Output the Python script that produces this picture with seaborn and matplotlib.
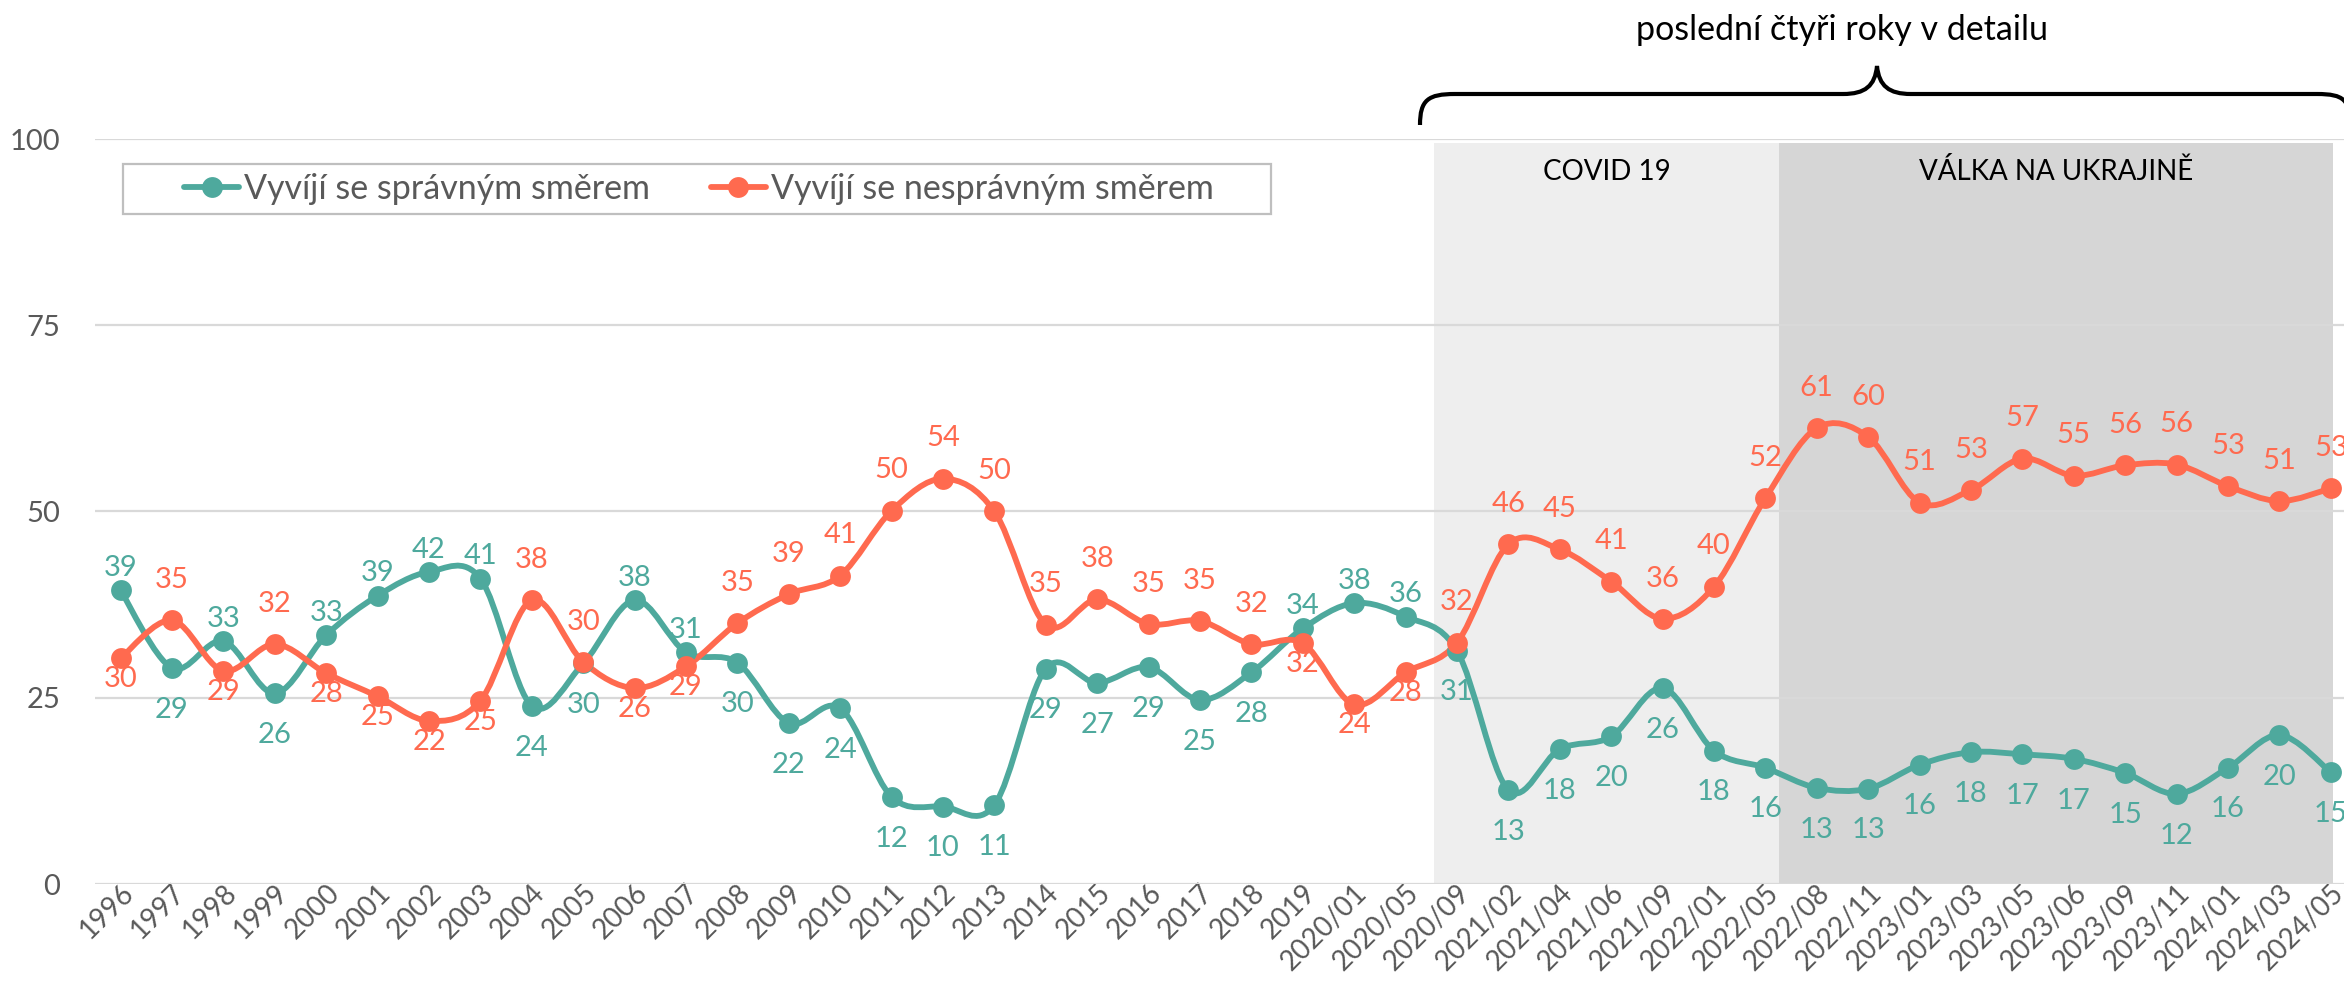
"""
Vývoj v ČR: správným / nesprávným směrem (1996-2024), smoothed line chart
with the last four years highlighted.
"""
import numpy as np
import seaborn as sns
import matplotlib.pyplot as plt
from matplotlib.path import Path
from matplotlib.patches import PathPatch, Rectangle
from matplotlib.lines import Line2D
from matplotlib.transforms import ScaledTranslation

# Data
CATEGORIES = [
    "1996", "1997", "1998", "1999", "2000", "2001", "2002", "2003",
    "2004", "2005", "2006", "2007", "2008", "2009", "2010", "2011",
    "2012", "2013", "2014", "2015", "2016", "2017", "2018", "2019",
    "2020/01", "2020/05", "2020/09", "2021/02", "2021/04", "2021/06",
    "2021/09", "2022/01", "2022/05", "2022/08", "2022/11", "2023/01",
    "2023/03", "2023/05", "2023/06", "2023/09", "2023/11", "2024/01",
    "2024/03", "2024/05",
]
RIGHT_DIRECTION = [
    39.4, 29.0, 32.6, 25.6, 33.4, 38.7, 41.9, 41.0, 23.9, 29.6, 38.1, 31.1,
    29.7, 21.6, 23.6, 11.7, 10.4, 10.6, 28.9, 27.0, 29.1, 24.7, 28.4, 34.3,
    37.7, 35.9, 31.3, 12.6, 18.1, 19.8, 26.3, 17.9, 15.6, 12.9, 12.8, 16.0,
    17.7, 17.4, 16.8, 14.9, 12.1, 15.6, 20.0, 15.0,
]
WRONG_DIRECTION = [
    30.3, 35.4, 28.6, 32.2, 28.3, 25.2, 21.9, 24.6, 38.1, 29.8, 26.3, 29.2,
    35.0, 38.9, 41.4, 50.1, 54.4, 50.0, 34.8, 38.2, 34.9, 35.3, 32.2, 32.3,
    24.1, 28.4, 32.4, 45.6, 44.9, 40.6, 35.6, 39.9, 51.8, 61.2, 60.0, 51.2,
    52.9, 57.1, 54.8, 56.2, 56.3, 53.4, 51.4, 53.1,
]
SERIES_NAMES = ["Vyvíjí se správným směrem", "Vyvíjí se nesprávným směrem"]
Y_TICKS = [0, 25, 50, 75, 100]
PERIOD_LABELS = ["COVID 19", "VÁLKA NA UKRAJINĚ"]
BRACE_TEXT = "poslední čtyři roky v detailu"

# Label placement: a = above the point, b = below
RIGHT_POS = "ababaaaabbaabbbbbbbbbbbaaa" + "b" * 18
WRONG_POS = "bababbbbaabb" + "a" * 11 + "bbb" + "a" * 18

# Style
W, H, DPI = 2344, 988, 100
GREEN = "#4EA99D"
RED = "#FF6A4F"
GRID = "#D9D9D9"
TEXT = "#595959"
LIGHT_BAND = "#EEEEEE"
DARK_BAND = "#D6D6D6"
BANDS = [(25.56, 32.27), (32.27, 43.04)]
LABEL_OFFSETS = {GREEN: {"a": 16, "b": -30}, RED: {"a": 29, "b": -15}}
FS = 21


def fx(px):
    return px / W


def fy(py):
    return 1 - py / H


def smooth_path(xs, ys):
    """Excel-like smoothed line: cubic Bezier through all points."""
    pts = np.column_stack([xs, ys]).astype(float)
    ext = np.vstack([pts[0], pts, pts[-1]])
    verts = [pts[0]]
    codes = [Path.MOVETO]
    for i in range(len(pts) - 1):
        p0, p1, p2, p3 = ext[i], ext[i + 1], ext[i + 2], ext[i + 3]
        verts += [p1 + (p2 - p0) / 6, p2 - (p3 - p1) / 6, p2]
        codes += [Path.CURVE4] * 3
    return Path(verts, codes)


def main():
    sns.set_theme(style="white")
    plt.rcParams["font.family"] = ["Lato", "DejaVu Sans"]

    fig = plt.figure(figsize=(W / DPI, H / DPI), dpi=DPI)
    left = 94.9
    ax = fig.add_axes([fx(left), fy(884), 1 - fx(left), fy(139) - fy(884)])
    x = np.arange(len(CATEGORIES))

    # highlighted periods
    for (x0, x1), c in zip(BANDS, [LIGHT_BAND, DARK_BAND]):
        ax.axvspan(x0, x1, ymin=0, ymax=0.995, color=c, lw=0, zorder=0.1)
    for (x0, x1), lab in zip(BANDS, PERIOD_LABELS):
        ax.text((x0 + x1) / 2, 95.6, lab, ha="center", va="center",
                fontsize=20, color="black", zorder=2)

    for vals, pos, color in [(RIGHT_DIRECTION, RIGHT_POS, GREEN),
                             (WRONG_DIRECTION, WRONG_POS, RED)]:
        ax.add_patch(PathPatch(smooth_path(x, vals), fill=False, ec=color,
                               lw=4.2, capstyle="round", joinstyle="round",
                               zorder=3))
        sns.scatterplot(x=x, y=vals, color=color, s=225, linewidth=0,
                        ax=ax, zorder=4, legend=False)
        for xi, v, p in zip(x, vals, pos):
            ax.annotate(f"{int(np.floor(v + 0.5))}", (xi, v),
                        xytext=(0, LABEL_OFFSETS[color][p]),
                        textcoords="offset points", ha="center",
                        va="center", fontsize=FS, color=color, zorder=5)

    ax.set_xlim(-0.5, (W - 120.6) / 51.4)
    ax.set_ylim(0, 100)
    ax.set_yticks(Y_TICKS)
    ax.set_xticks(x)
    ax.set_xticklabels(CATEGORIES, rotation=45, ha="right", va="center",
                       rotation_mode="anchor")
    ax.tick_params(axis="x", length=0, pad=26, labelsize=20, labelcolor=TEXT)
    ax.tick_params(axis="y", length=0, pad=25, labelsize=FS, labelcolor=TEXT)
    shift = ScaledTranslation(9 / DPI, 31 / DPI, fig.dpi_scale_trans)
    for lab in ax.get_xticklabels():
        lab.set_transform(lab.get_transform() + shift)
    ax.set_axisbelow(True)
    ax.grid(axis="y", color=GRID, lw=1.6)
    ax.grid(axis="x", visible=False)
    for s in ax.spines.values():
        s.set_visible(False)
    ax.set_xlabel("")
    ax.set_ylabel("")
    ax.patch.set_alpha(0)

    # legend box
    fig.add_artist(Rectangle((fx(123), fy(214)), fx(1271) - fx(123),
                             fy(164) - fy(214), transform=fig.transFigure,
                             fill=False, ec="#BFBFBF", lw=1.6))
    handles = [Line2D([0], [0], color=c, lw=4.2, marker="o", markersize=15,
                      markeredgewidth=0) for c in (GREEN, RED)]
    fig.legend(handles, SERIES_NAMES, loc="center",
               bbox_to_anchor=(fx(699), fy(189)), ncol=2, frameon=False,
               fontsize=24.5, labelcolor=TEXT, handlelength=1.6,
               handletextpad=0.15, columnspacing=1.8, borderpad=0,
               borderaxespad=0)

    # brace over the last four years
    tip = 1877
    pts = [(1420, 125), (1420, 100), (1428, 94), (1455, 94),
           (tip - 34, 94), (tip - 12, 94), (tip - 2, 86), (tip, 66),
           (tip + 2, 86), (tip + 12, 94), (tip + 34, 94),
           (2317, 94), (2344, 94), (2350, 100), (2350, 125)]
    codes = [Path.MOVETO] + [Path.CURVE4] * 3 + [Path.LINETO] + \
        [Path.CURVE4] * 3 + [Path.CURVE4] * 3 + [Path.LINETO] + [Path.CURVE4] * 3
    brace = Path([(fx(a), fy(b)) for a, b in pts], codes)
    fig.add_artist(PathPatch(brace, fill=False, ec="black", lw=3,
                             transform=fig.transFigure))
    fig.text(fx(1842), fy(30), BRACE_TEXT, ha="center", va="center",
             fontsize=24.5, color="black")

    fig.savefig("out.png", dpi=DPI)


if __name__ == "__main__":
    main()
